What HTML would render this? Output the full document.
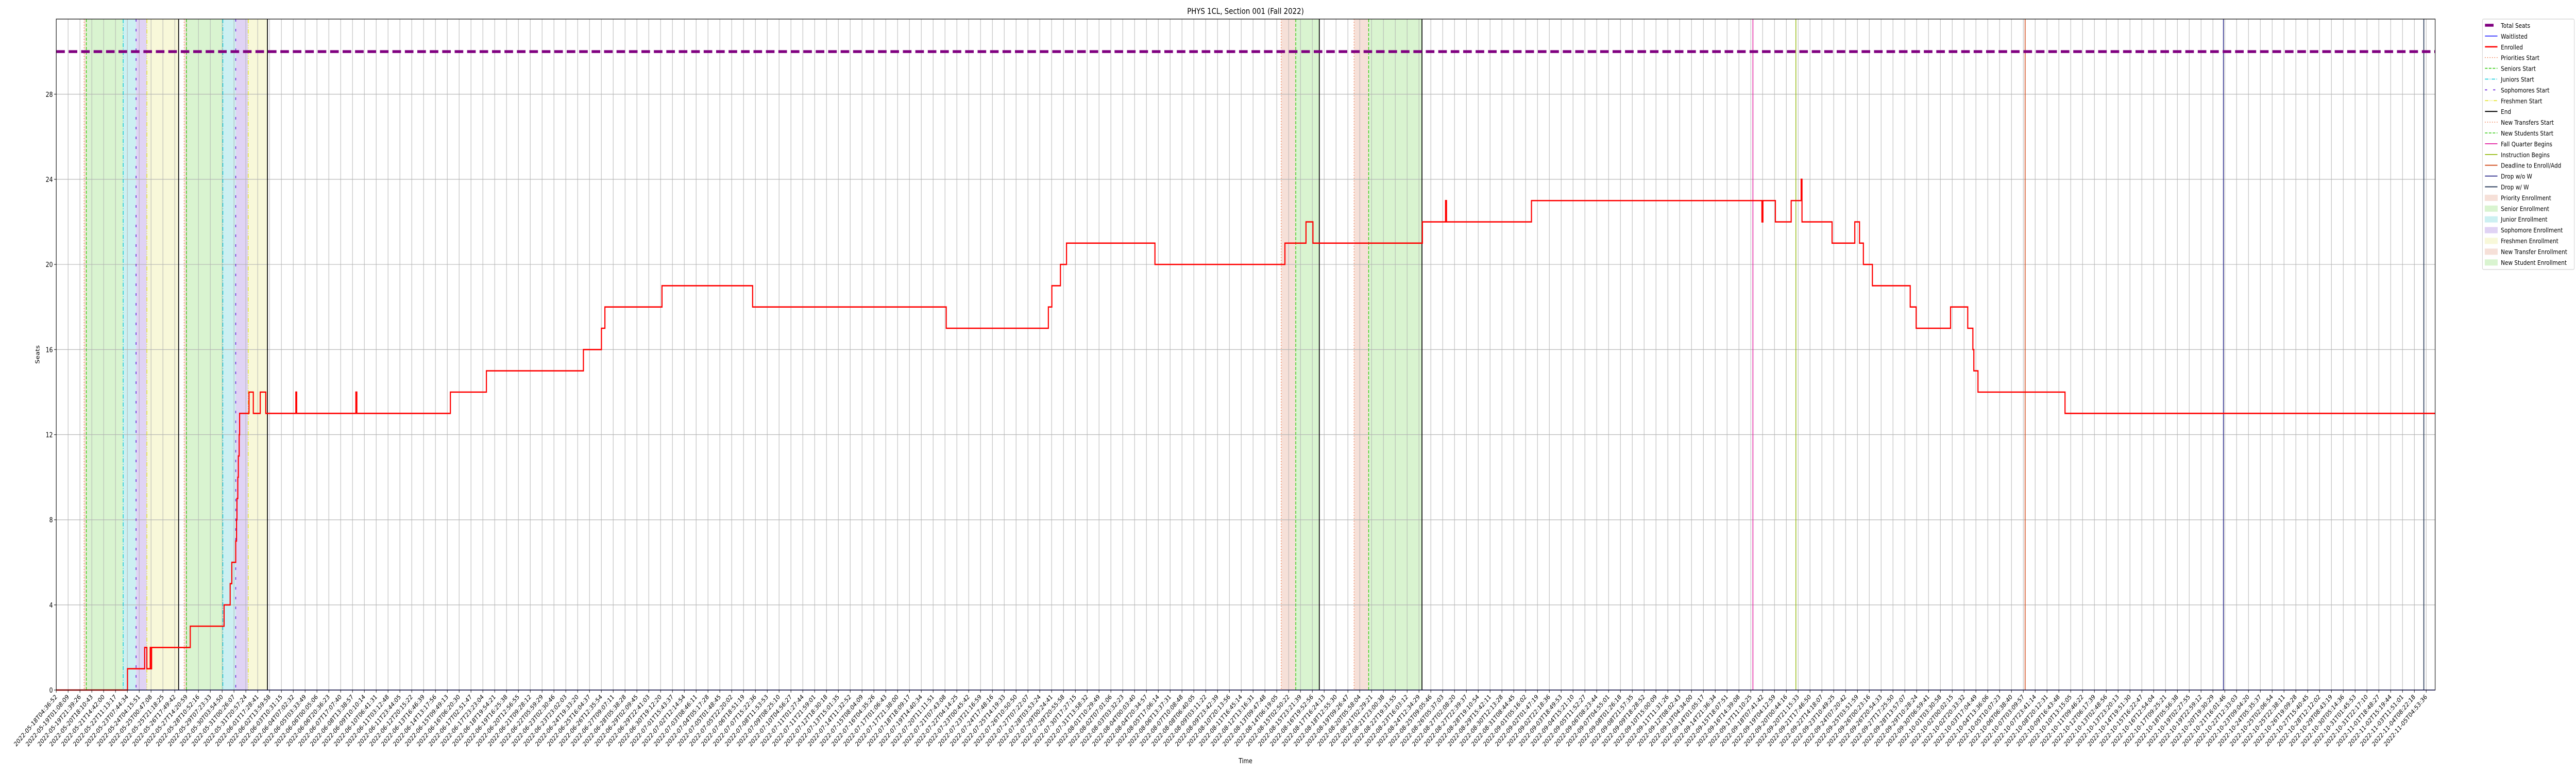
<!DOCTYPE html>
<html><head><meta charset="utf-8"><style>
html,body{margin:0;padding:0;background:#fff;width:100vw;height:100vh;overflow:hidden;}
svg{display:block;font-family:"DejaVu Sans","Liberation Sans",sans-serif;width:100vw;height:100vh;overflow:hidden;}
</style></head><body>
<svg id="chart" viewBox="0 0 6000 1500" preserveAspectRatio="none" xmlns="http://www.w3.org/2000/svg">
<rect x="0" y="0" width="6000" height="1500" fill="#fff"/>
<text x="2901" y="27" font-size="16" text-anchor="middle" fill="#000">PHYS 1CL, Section 001 (Fall 2022)</text>
<text x="2901" y="1481" font-size="13" text-anchor="middle" fill="#000">Time</text>
<text x="0" y="0" font-size="13" text-anchor="middle" fill="#000" transform="translate(92,688) rotate(-90)">Seats</text>
<g id="spans"></g><g id="grid"></g><g id="vlines"></g><g id="series"></g><g id="axes"></g><g id="legend"></g>
</svg>
<script>
// ---- data (x in days since 2022-05-18T04:36:52) ----
const enrolledDays = [0,5.14,6.38,6.54,6.78,6.82,6.88,9.67,12.11,12.55,12.67,12.95,13.01,13.04,13.10,13.14,13.20,13.23,13.91,14.22,14.72,15.12,17.29,17.35,21.62,21.69,28.44,31.04,38.04,39.34,39.59,43.71,50.25,64.22,71.59,71.84,72.46,72.90,79.28,88.66,90.18,90.68,98.58,100.25,100.32,106.45,123.08,123.15,124.05,125.19,125.91,125.97,128.14,129.78,130.12,130.40,131.05,133.78,134.21,136.69,137.93,138.30,138.37,138.67,144.95];
const enrolledValues = [0,1,2,1,2,1,2,3,4,5,6,7,8,9,10,11,12,13,14,13,14,13,14,13,14,13,14,15,16,17,18,19,18,17,18,19,20,21,20,21,22,21,22,23,22,23,22,23,22,23,24,22,21,22,21,20,19,18,17,18,17,16,15,14,13];
const waitlistValue = 0;
const totalSeats = 30;
const yTicks = [0,4,8,12,16,20,24,28];
const spanStarts = [2.01,2.17,4.83,5.76,6.54,9.23,9.39,12.02,12.95,13.85,88.39,89.44,93.65,94.70];
const spanEnds   = [2.17,4.83,5.76,6.54,8.83,9.39,12.02,12.95,13.85,15.24,89.44,91.14,94.70,98.55];
const spanKinds  = ["priority","senior","junior","sophomore","freshmen","priority","senior","junior","sophomore","freshmen","transfer","newstudent","transfer","newstudent"];
const eventDays  = [2.01,2.17,4.83,5.76,6.54,8.83,9.23,9.39,12.02,12.95,13.85,15.24,88.39,89.44,91.14,93.65,94.70,98.55,122.43,125.53,142.07,156.38,170.84];
const eventKinds = ["prio","senior","junior","soph","fresh","end","prio","senior","junior","soph","fresh","end","transfer","newst","end","transfer","newst","end","fall","instr","deadline","dropwo","dropw"];
const tickStart = "2022-05-18T04:36:52";
const tickEnd = "2022-11-05T04:53:36";
const tickCount = 201;
const xMaxDays = 171.66;

// ---- layout ----
const L=131, R=5672, T=37, B=1339, yMax=31.53;
const X = d => L + d/xMaxDays*(R-L);
const Y = v => B - v/yMax*(B-T);
const NS="http://www.w3.org/2000/svg";
function mk(tag, attrs, parent){const e=document.createElementNS(NS,tag);for(const k in attrs)e.setAttribute(k,attrs[k]);if(parent)document.getElementById(parent).appendChild(e);return e;}

const spanFill={priority:"#f6e0d8",senior:"#d9f4d0",junior:"#ccf0f2",sophomore:"#e0d3f4",freshmen:"#f8f8d9",transfer:"#f6e0d8",newstudent:"#d9f4d0"};
spanStarts.forEach((s,i)=>{
  const r=mk("rect",{x:X(s),y:T,width:X(spanEnds[i])-X(s),height:B-T,fill:spanFill[spanKinds[i]]},"spans");
  
  
});

// grid + ticks
const tickLabels=[];
(function(){const t0=Date.parse(tickStart+"Z"),t1=Date.parse(tickEnd+"Z");
 for(let i=0;i<tickCount;i++){tickLabels.push(new Date(t0+(t1-t0)*i/(tickCount-1)).toISOString().slice(0,19));}})();
const tickSpan=(Date.parse(tickEnd+"Z")-Date.parse(tickStart+"Z"))/86400000;
tickLabels.forEach((lab,i)=>{
  const d=tickSpan*i/(tickCount-1);const x=X(d);
  const g=mk("line",{x1:x,x2:x,y1:T,y2:B,stroke:"#b0b0b0","stroke-width":1.1},"grid");
  
  
  const tk=mk("line",{x1:x,x2:x,y1:B,y2:B+5,stroke:"#000","stroke-width":1},"axes");
  
  
  const tx=mk("text",{x:0,y:0,"font-size":12.5,"text-anchor":"end",transform:`translate(${x+3},${B+14}) rotate(-45)`},"axes");
  tx.textContent=lab;
  
  
});
yTicks.forEach(v=>{
  const y=Y(v);
  const g=mk("line",{x1:L,x2:R,y1:y,y2:y,stroke:"#b0b0b0","stroke-width":1.1},"grid");
  
  
  const tk=mk("line",{x1:L-5,x2:L,y1:y,y2:y,stroke:"#000","stroke-width":1},"axes");
  
  
  const tx=mk("text",{x:L-8,y:y+5,"font-size":13,"text-anchor":"end"},"axes");
  tx.textContent=v;
  
  
});

// event lines
const evStyle={prio:["#ee6a35","1.5,4",1.6],senior:["#33cc11","6,3",1.6],junior:["#00c8d8","8,3,1.5,3",1.6],soph:["#6a22dd","5,14",1.8],fresh:["#e2e222","8,3,1.5,3,1.5,3",1.6],end:["#000","",2],transfer:["#ee6a35","1.5,4",1.6],newst:["#33cc11","6,3",1.6],fall:["#e0109a","",1.6],instr:["#8db600","",1.6],deadline:["#d04a1a","",1.8],dropwo:["#2a2a8a","",1.8],dropw:["#2c3e5c","",2]};
eventDays.forEach((d,i)=>{
  const s=evStyle[eventKinds[i]];const x=X(d);
  const a={x1:x,x2:x,y1:T,y2:B,stroke:s[0],"stroke-width":s[2]};if(s[1])a["stroke-dasharray"]=s[1];
  const l=mk("line",a,"vlines");
  
  
});

// total seats
const ts=mk("line",{x1:L,x2:R,y1:Y(totalSeats),y2:Y(totalSeats),stroke:"#800080","stroke-width":5.5,"stroke-dasharray":"20,9"},"series");


// waitlisted
const wl=mk("line",{x1:L,x2:R,y1:Y(waitlistValue),y2:Y(waitlistValue),stroke:"#2222ff","stroke-width":1.6},"series");


// enrolled step
let p="";
enrolledDays.forEach((d,i)=>{const x=X(d),y=Y(enrolledValues[i]);
  if(i===0)p+=`M${x},${y}`;else p+=`H${x}V${y}`;});
p+=`H${X(xMaxDays)}`;
const en=mk("path",{d:p,fill:"none",stroke:"#ff0000","stroke-width":2.6},"series");



// frame
const fr=mk("rect",{x:L,y:T,width:R-L,height:B-T,fill:"none",stroke:"#000","stroke-width":1.2},"axes");



// legend
const legendLabels=["Total Seats","Waitlisted","Enrolled","Priorities Start","Seniors Start","Juniors Start","Sophomores Start","Freshmen Start","End","New Transfers Start","New Students Start","Fall Quarter Begins","Instruction Begins","Deadline to Enroll/Add","Drop w/o W","Drop w/ W","Priority Enrollment","Senior Enrollment","Junior Enrollment","Sophomore Enrollment","Freshmen Enrollment","New Transfer Enrollment","New Student Enrollment"];
const legendKinds=["seats","wait","enr","prio","senior","junior","soph","fresh","end","transfer","newst","fall","instr","deadline","dropwo","dropw","p:priority","p:senior","p:junior","p:sophomore","p:freshmen","p:transfer","p:newstudent"];
const lb=mk("rect",{x:5782,y:37,width:214,height:486,rx:3,fill:"#fff",stroke:"#d0d0d0","stroke-width":1.2},"legend");


legendLabels.forEach((lab,i)=>{
  const y=49+i*20.9;const k=legendKinds[i];
  let h;
  if(k.startsWith("p:")){h=mk("rect",{x:5788,y:y-5,width:29,height:11,fill:spanFill[k.slice(2)],stroke:spanFill[k.slice(2)]},"legend");}
  else if(k==="seats"){h=mk("line",{x1:5788,x2:5808,y1:y,y2:y,stroke:"#800080","stroke-width":5.5},"legend");}
  else if(k==="wait"){h=mk("line",{x1:5788,x2:5817,y1:y,y2:y,stroke:"#2222ff","stroke-width":1.6},"legend");}
  else if(k==="enr"){h=mk("line",{x1:5788,x2:5817,y1:y,y2:y,stroke:"#ff0000","stroke-width":2.6},"legend");}
  else{const s=evStyle[k];const a={x1:5788,x2:5817,y1:y,y2:y,stroke:s[0],"stroke-width":s[2]};if(s[1])a["stroke-dasharray"]=s[1];h=mk("line",a,"legend");}
  
  
  const t=mk("text",{x:5825,y:y+5,"font-size":12.6},"legend");
  t.textContent=lab;
  
  
});
</script>
</body></html>
